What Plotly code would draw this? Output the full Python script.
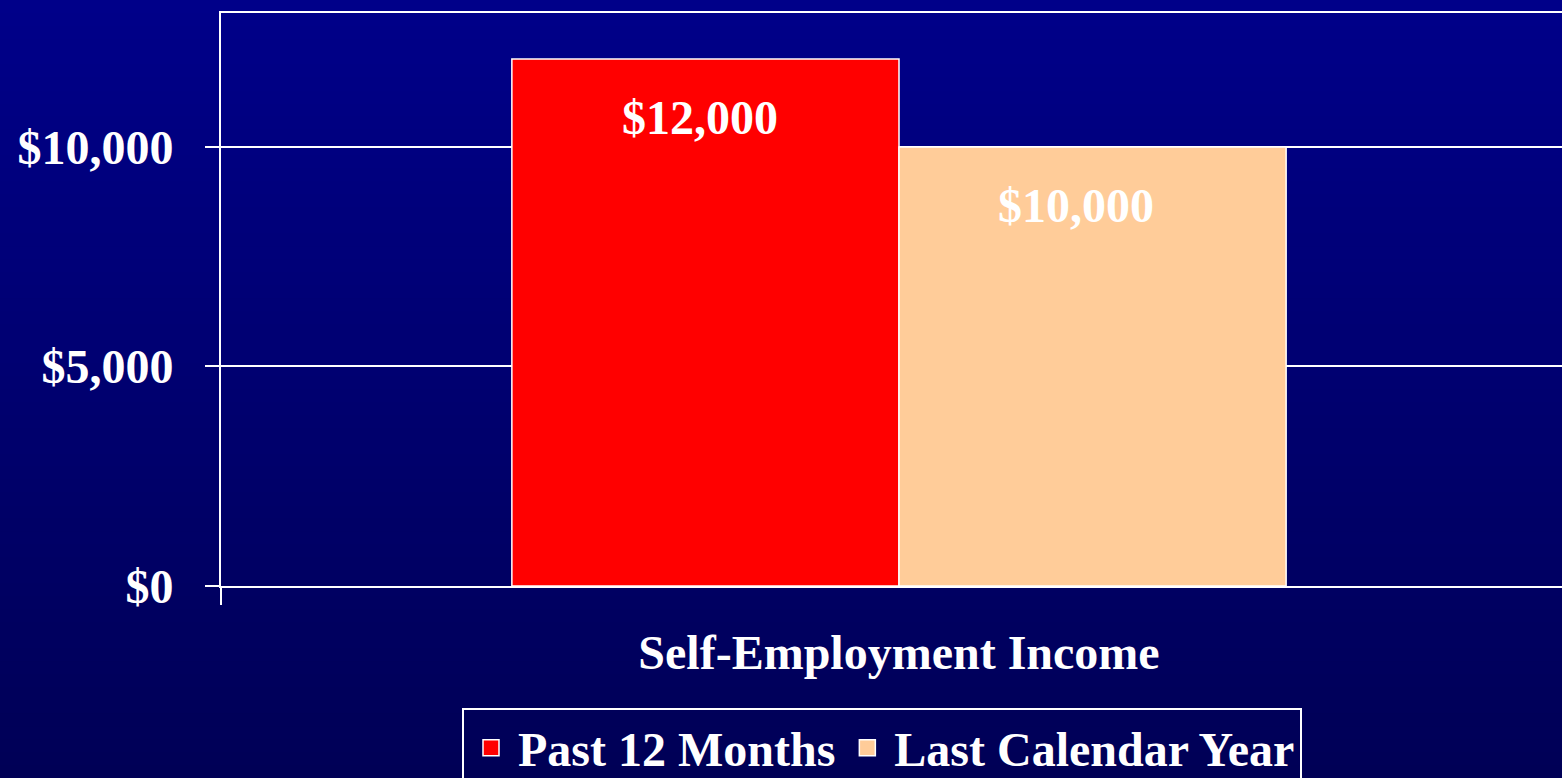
import plotly.graph_objects as go

categories = ["Self-Employment Income"]
series_names = ["Past 12 Months", "Last Calendar Year"]
series_values = [[12000], [10000]]
series_colors = ["#FF0000", "#FFCC99"]
y_ticks = [0, 5000, 10000]
y_tick_labels = ["$0", "$5,000", "$10,000"]

FONT = "Liberation Serif, Times New Roman, serif"
BOLD = dict(family=FONT, size=48, color="white", weight="bold")

fig = go.Figure()
for name, vals, col in zip(series_names, series_values, series_colors):
    fig.add_trace(go.Bar(
        x=categories, y=vals, name=name, showlegend=False,
        marker=dict(color=col, line=dict(color="white", width=1.5)),
        hoverinfo="y",
    ))
# legend entries with larger square swatches
for name, col in zip(series_names, series_colors):
    fig.add_trace(go.Scatter(
        x=[None], y=[None], mode="markers", name=name,
        marker=dict(symbol="square", size=16, color=col, line=dict(color="white", width=1.5)),
    ))

# value labels inside the bars
n = len(series_names)
label_nudge = [-6, -17]
for i, vals in enumerate(series_values):
    for c, v in zip(categories, vals):
        fig.add_annotation(
            x=c, y=v, xref="x", yref="y", text=f"${v:,.0f}", showarrow=False,
            yanchor="top", yshift=-30, xshift=(i - (n - 1) / 2) * 387 + label_nudge[i],
            font=BOLD,
        )

# vertical gradient background
steps = 60
top_b, bot_b = 0x8A, 0x56
H = 778
for k in range(steps):
    t = (k + 0.5) / steps
    b = int(top_b + (bot_b - top_b) * t)
    py0 = k * H / steps - (1 if k == 0 else 0)
    py1 = (k + 1) * H / steps + 1
    fig.add_shape(
        type="rect", xref="paper", yref="paper", layer="below",
        x0=-221 / 1341, x1=1.01,
        y0=(586 - py0) / 573, y1=(586 - py1) / 573,
        fillcolor=f"rgb(0,0,{b})", line=dict(width=0),
    )

fig.update_layout(
    width=1562, height=778,
    margin=dict(l=221, r=0, t=13, b=192, autoexpand=False),
    paper_bgcolor="#000070", plot_bgcolor="rgba(0,0,0,0)",
    barmode="group", bargap=0.429, bargroupgap=0,
    font=BOLD,
    legend=dict(
        orientation="h", xref="container", yref="container",
        x=462 / 1562, xanchor="left",
        y=1 - 708 / 778, yanchor="top",
        bordercolor="white", borderwidth=2, bgcolor="rgba(0,0,0,0)",
        font=BOLD, itemsizing="trace", itemwidth=44,
    ),
    xaxis=dict(
        range=[-0.5, -0.5 + 1341 / 1356],
        showline=True, linecolor="white", linewidth=2, mirror=True,
        ticks="outside", tickson="boundaries", ticklen=17, tickwidth=2, tickcolor="white",
        showgrid=False, tickfont=BOLD,
        ticklabelstandoff=23,
    ),
    yaxis=dict(
        range=[0, 13050], tickvals=y_ticks, ticktext=y_tick_labels,
        showgrid=True, gridcolor="white", gridwidth=2,
        showline=True, linecolor="white", linewidth=2, mirror=False,
        ticks="outside", ticklen=14, tickwidth=2, tickcolor="white",
        zeroline=False, tickfont=BOLD,
        ticklabelstandoff=22,
    ),
)

fig.write_html(
    "out.html",
    config={"displayModeBar": False},
    post_script="document.body.style.margin='0';document.body.style.overflow='hidden';",
)
